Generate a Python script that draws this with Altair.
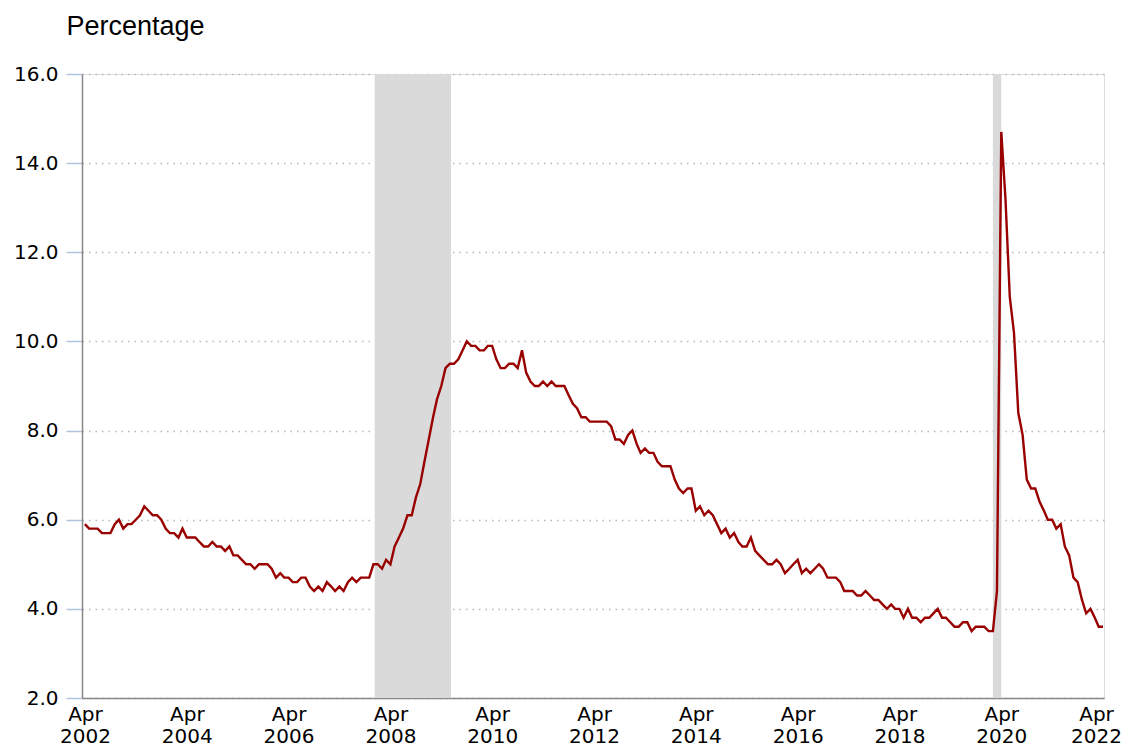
import altair as alt
import pandas as pd

# Monthly unemployment rate (%), Jan..Dec per year; series shown from Apr 2002 to Apr 2022
rate_2002 = [5.7, 5.7, 5.7, 5.9, 5.8, 5.8, 5.8, 5.7, 5.7, 5.7, 5.9, 6.0]
rate_2003 = [5.8, 5.9, 5.9, 6.0, 6.1, 6.3, 6.2, 6.1, 6.1, 6.0, 5.8, 5.7]
rate_2004 = [5.7, 5.6, 5.8, 5.6, 5.6, 5.6, 5.5, 5.4, 5.4, 5.5, 5.4, 5.4]
rate_2005 = [5.3, 5.4, 5.2, 5.2, 5.1, 5.0, 5.0, 4.9, 5.0, 5.0, 5.0, 4.9]
rate_2006 = [4.7, 4.8, 4.7, 4.7, 4.6, 4.6, 4.7, 4.7, 4.5, 4.4, 4.5, 4.4]
rate_2007 = [4.6, 4.5, 4.4, 4.5, 4.4, 4.6, 4.7, 4.6, 4.7, 4.7, 4.7, 5.0]
rate_2008 = [5.0, 4.9, 5.1, 5.0, 5.4, 5.6, 5.8, 6.1, 6.1, 6.5, 6.8, 7.3]
rate_2009 = [7.8, 8.3, 8.7, 9.0, 9.4, 9.5, 9.5, 9.6, 9.8, 10.0, 9.9, 9.9]
rate_2010 = [9.8, 9.8, 9.9, 9.9, 9.6, 9.4, 9.4, 9.5, 9.5, 9.4, 9.8, 9.3]
rate_2011 = [9.1, 9.0, 9.0, 9.1, 9.0, 9.1, 9.0, 9.0, 9.0, 8.8, 8.6, 8.5]
rate_2012 = [8.3, 8.3, 8.2, 8.2, 8.2, 8.2, 8.2, 8.1, 7.8, 7.8, 7.7, 7.9]
rate_2013 = [8.0, 7.7, 7.5, 7.6, 7.5, 7.5, 7.3, 7.2, 7.2, 7.2, 6.9, 6.7]
rate_2014 = [6.6, 6.7, 6.7, 6.2, 6.3, 6.1, 6.2, 6.1, 5.9, 5.7, 5.8, 5.6]
rate_2015 = [5.7, 5.5, 5.4, 5.4, 5.6, 5.3, 5.2, 5.1, 5.0, 5.0, 5.1, 5.0]
rate_2016 = [4.8, 4.9, 5.0, 5.1, 4.8, 4.9, 4.8, 4.9, 5.0, 4.9, 4.7, 4.7]
rate_2017 = [4.7, 4.6, 4.4, 4.4, 4.4, 4.3, 4.3, 4.4, 4.3, 4.2, 4.2, 4.1]
rate_2018 = [4.0, 4.1, 4.0, 4.0, 3.8, 4.0, 3.8, 3.8, 3.7, 3.8, 3.8, 3.9]
rate_2019 = [4.0, 3.8, 3.8, 3.7, 3.6, 3.6, 3.7, 3.7, 3.5, 3.6, 3.6, 3.6]
rate_2020 = [3.5, 3.5, 4.4, 14.7, 13.2, 11.0, 10.2, 8.4, 7.9, 6.9, 6.7, 6.7]
rate_2021 = [6.4, 6.2, 6.0, 6.0, 5.8, 5.9, 5.4, 5.2, 4.7, 4.6, 4.2, 3.9]
rate_2022 = [4.0, 3.8, 3.6, 3.6]

years = list(range(2002, 2023))
yearly = [rate_2002, rate_2003, rate_2004, rate_2005, rate_2006, rate_2007,
          rate_2008, rate_2009, rate_2010, rate_2011, rate_2012, rate_2013,
          rate_2014, rate_2015, rate_2016, rate_2017, rate_2018, rate_2019,
          rate_2020, rate_2021, rate_2022]

# Recession periods (shaded)
rec_start = ["2007-12-10", "2020-02-01"]
rec_end = ["2009-06-10", "2020-04-01"]

tick_dates = [f"{y}-04-01" for y in range(2002, 2023, 2)]
y_ticks = [2, 4, 6, 8, 10, 12, 14, 16]

rows = []
for yr, vals in zip(years, yearly):
    for m, v in enumerate(vals, start=1):
        if yr == 2002 and m < 4:
            continue
        rows.append({"date": f"{yr}-{m:02d}-01", "rate": v})
df = pd.DataFrame(rows)
rec = pd.DataFrame({"start": rec_start, "end": rec_end})

W, H = 1022, 624
xscale = alt.Scale(domain=["2002-03-11", "2022-04-08"])
yscale = alt.Scale(domain=[2, 16], nice=False, zero=False)

shade = alt.Chart(rec).mark_rect(color="#dadada").encode(
    x=alt.X("start:T", scale=xscale),
    x2="end:T",
    y=alt.value(0),
    y2=alt.value(H),
)

line = alt.Chart(df).mark_line(color="#990000", strokeWidth=2.4).encode(
    x=alt.X("date:T", scale=xscale,
            axis=alt.Axis(values=tick_dates, grid=False, ticks=False,
                          domainColor="#888888", domainWidth=1.5,
                          labelExpr="['Apr', timeFormat(datum.value, '%Y')]",
                          labelFont="DejaVu Sans", labelFontSize=20,
                          labelColor="#000000", labelLineHeight=22,
                          labelPadding=6, labelBaseline="top",
                          labelOffset={"condition": {"test": "year(datum.value) >= 2022",
                                                     "value": -7},
                                       "value": 0},
                          labelFlush=False, labelOverlap=False, title=None)),
    y=alt.Y("rate:Q", scale=yscale,
            axis=alt.Axis(values=y_ticks, format=".1f", grid=True,
                          gridColor="#b8b8b8", gridDash=[1.5, 5], gridWidth=1.5,
                          tickColor="#b0c4de", tickSize=16, tickWidth=1.5,
                          domainColor="#888888", domainWidth=1.5,
                          labelFont="DejaVu Sans", labelFontSize=20,
                          labelColor="#000000", labelPadding=8,
                          title="Percentage", titleAngle=0, titleAlign="left",
                          titleBaseline="alphabetic", titleX=-16, titleY=-40,
                          titleFont="Liberation Sans", titleFontSize=27,
                          titleFontWeight="normal", titleColor="#000000")),
)

chart = alt.layer(shade, line).properties(
    width=W, height=H,
    autosize=alt.AutoSizeParams(type="none"),
    padding={"left": 74, "top": 66, "right": 18, "bottom": 50},
).configure_view(stroke=None).configure(background="white")

chart.save("out.html", embed_options={"renderer": "svg", "actions": False})
